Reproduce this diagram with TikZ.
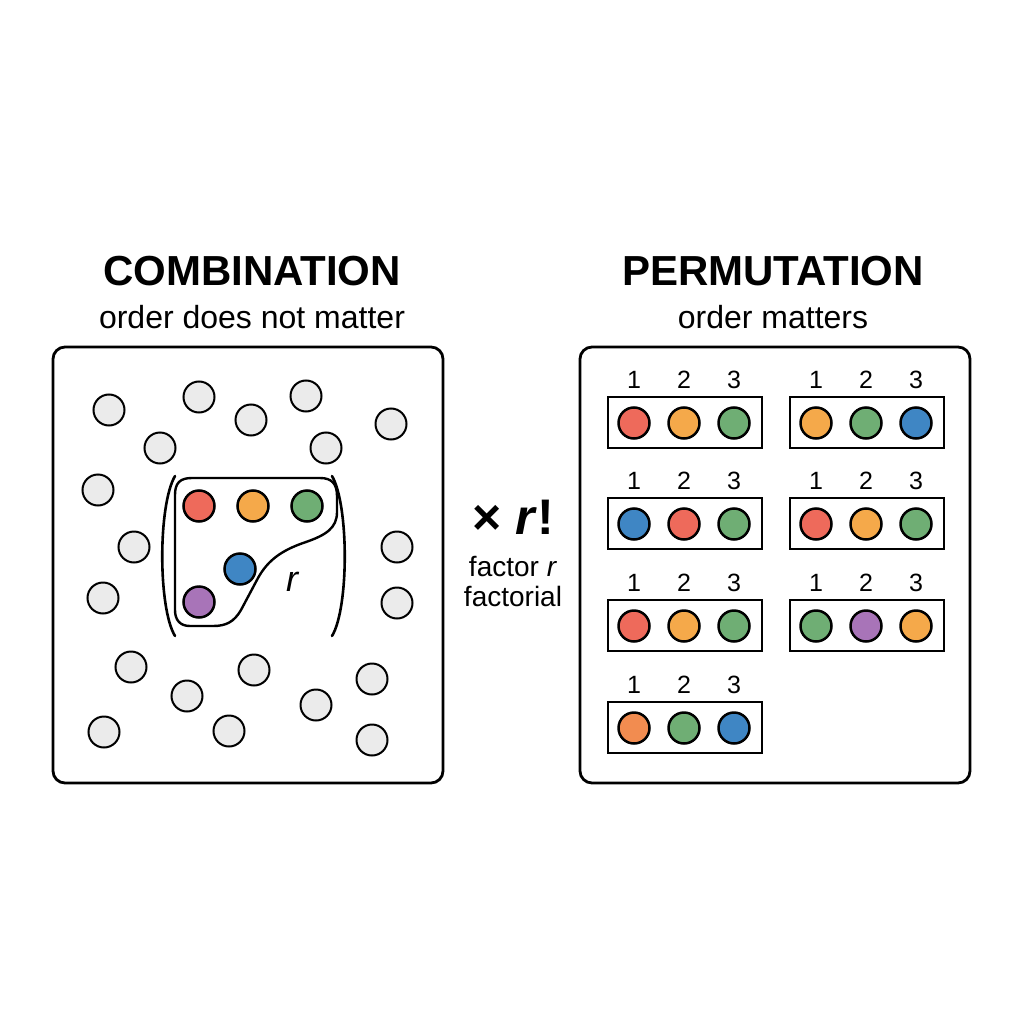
\documentclass[tikz,border=0pt]{standalone}
\usepackage{fontspec}
\setmainfont{Liberation Sans}
\begin{document}
\begin{tikzpicture}[x=1pt,y=-1pt,
  panel/.style={draw=black,line width=2.8pt,rounded corners=12pt,fill=white},
  dot/.style={circle,draw=black,line width=2.5pt,minimum size=31pt,inner sep=0pt},
  gray/.style={dot,fill=cgray,line width=2pt},
  slot/.style={draw=black,line width=2.8pt,fill=white},
  num/.style={font=\fontsize{25}{28}\selectfont},
  title/.style={font=\bfseries\fontsize{42}{48}\selectfont},
  sub/.style={font=\fontsize{32}{36}\selectfont}]
\definecolor{cgray}{HTML}{EBEBEB}
\definecolor{cred}{HTML}{EE6A5B}
\definecolor{corange}{HTML}{F5A94A}
\definecolor{cgreen}{HTML}{6FAE74}
\definecolor{cblue}{HTML}{3F86C4}
\definecolor{cpurple}{HTML}{A874B8}
\definecolor{corange2}{HTML}{F28C50}
\useasboundingbox[fill=white] (0,0) rectangle (1024,1024);

% titles
\node[title] (t1) at (252,271) {COMBINATION};
\node[sub] (s1) at (252,317) {order does not matter};
\node[title] (t2) at (773,271) {PERMUTATION};
\node[sub] (s2) at (773,317) {order matters};

% panels
\draw[panel] (53,347) rectangle (443,783);
\draw[panel] (580,347) rectangle (970,783);

% gray dots
\foreach \x/\y [count=\i] in {109/410,199/397,306/396,251/420,160/448,326/448,391/424,98/490,134/547,103/598,397/547,397/603,131/667,254/670,372/679,187/696,316/705,104/732,229/731,372/740}
  \node[gray] (g\i) at (\x,\y) {};

% selected group
\draw[line width=2.4pt,line join=round]
  (175,495) .. controls (175,483) and (180,478) .. (192,478) -- (320,478)
  .. controls (332,478) and (337,484) .. (337,496) -- (337,512)
  .. controls (337,528) and (326,535) .. (306,542)
  .. controls (282,550) and (268,560) .. (258,578) -- (241,610)
  .. controls (234,622) and (226,626) .. (213,626) -- (190,626)
  .. controls (180,626) and (175,620) .. (175,610) -- cycle;
\draw[line width=2.6pt,line cap=round] (175,476) .. controls (158,505) and (158,608) .. (175,636);
\draw[line width=2.6pt,line cap=round] (332,476) .. controls (349,505) and (349,608) .. (332,636);
\node[dot,fill=cred] (c1) at (199,506) {};
\node[dot,fill=corange] (c2) at (253,506) {};
\node[dot,fill=cgreen] (c3) at (307,506) {};
\node[dot,fill=cblue] (c4) at (240,569) {};
\node[dot,fill=cpurple] (c5) at (199,602) {};
\node[font=\itshape\fontsize{36}{40}\selectfont] (r) at (292,582) {r};

% middle
\node[font=\bfseries\fontsize{50}{54}\selectfont] (fr) at (513,517) {× \textit{r}!};
\node[font=\fontsize{28}{32}\selectfont] (f1) at (513,566) {factor \textit{r}};
\node[font=\fontsize{28}{32}\selectfont] (f2) at (513,596) {factorial};

% permutation slots
\foreach \bx/\by/\ca/\cb/\cc/\k in {
  608/397/cred/corange/cgreen/a,
  790/397/corange/cgreen/cblue/b,
  608/498/cblue/cred/cgreen/c,
  790/498/cred/corange/cgreen/d,
  608/600/cred/corange/cgreen/e,
  790/600/cgreen/cpurple/corange/f,
  608/702/corange2/cgreen/cblue/g}{
  \draw[slot] (\bx,\by) rectangle ++(154,51);
  \node[num] (n\k1) at (\bx+26,\by-17) {1};
  \node[num] (n\k2) at (\bx+76,\by-17) {2};
  \node[num] (n\k3) at (\bx+126,\by-17) {3};
  \node[dot,fill=\ca] (p\k1) at (\bx+26,\by+26) {};
  \node[dot,fill=\cb] (p\k2) at (\bx+76,\by+26) {};
  \node[dot,fill=\cc] (p\k3) at (\bx+126,\by+26) {};
}
\end{tikzpicture}
\end{document}
